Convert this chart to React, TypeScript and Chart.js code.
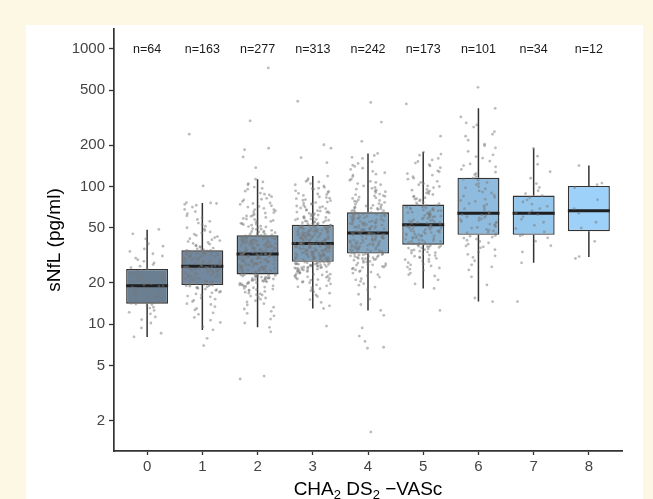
import React, { useEffect, useRef } from 'react';
import { Chart, registerables } from 'chart.js';

Chart.register(...registerables);

// ---------- data ----------
const categories = [0, 1, 2, 3, 4, 5, 6, 7, 8];
const nLabels = ['n=64', 'n=163', 'n=277', 'n=313', 'n=242', 'n=173', 'n=101', 'n=34', 'n=12'];
const whiskerLow = [8.06, 9.06, 9.5, 13.0, 12.6, 18.2, 14.6, 27.9, 30.8];
const q1 = [14.1, 19.3, 23.0, 28.4, 32.6, 37.8, 44.6, 44.6, 47.4];
const median = [19.0, 26.4, 32.3, 38.5, 45.9, 52.7, 64.0, 64.0, 66.8];
const q3 = [25.2, 34.4, 44.2, 52.7, 65.0, 74.0, 116, 86.0, 101];
const whiskerHigh = [48.5, 75.9, 113, 119, 174, 178, 370, 189, 142];
const boxColors = ['#6b7f93', '#71889e', '#7792aa', '#7d9cb6', '#83a7c3', '#89b1d0', '#8fbcde', '#95c6eb', '#9ed1f9'];
const yTicks = [2, 5, 10, 20, 50, 100, 200, 500, 1000];
const xTitleParts = ['CHA', '2', ' DS', '2', ' \u2212VASc'];
const yTitle = 'sNfL (pg/ml)';

const points0 = [8.1, 8.6, 9.4, 10.2, 10.8, 11.3, 11.9, 12.2, 12.6, 13.1, 13.3, 13.6, 13.9, 14.0, 14.2, 14.4,
  14.7, 15.0, 15.2, 15.6, 15.9, 16.1, 16.4, 16.9, 17.2, 17.4, 17.8, 18.1, 18.3, 18.6, 18.8, 19.0,
  19.3, 19.7, 20.1, 20.4, 20.9, 21.2, 21.5, 21.9, 22.3, 22.6, 23.0, 23.4, 23.9, 24.3, 24.7, 25.1,
  25.8, 26.4, 27.1, 27.9, 28.6, 29.4, 30.2, 31.3, 32.5, 33.8, 35.2, 36.9, 38.4, 41.7, 45.3, 48.8];
const points1 = [7.0, 7.9, 9.1, 9.6, 10.3, 10.7, 11.2, 11.8, 12.1, 12.7, 13.0, 13.4, 13.9, 14.1, 14.6, 14.9, 15.2, 15.5, 15.8, 16.0,
  16.3, 16.6, 16.9, 17.1, 17.3, 17.6, 17.8, 18.0, 18.2, 18.4, 18.5, 18.7, 18.9, 19.0, 19.1, 19.2, 19.3, 19.4, 19.5, 19.6,
  19.8, 20.0, 20.3, 20.5, 20.6, 20.9, 21.1, 21.3, 21.4, 21.7, 21.9, 22.1, 22.2, 22.5, 22.7, 22.8, 23.0, 23.2, 23.5, 23.6,
  23.8, 24.0, 24.1, 24.3, 24.4, 24.6, 24.8, 24.9, 25.1, 25.2, 25.3, 25.5, 25.6, 25.7, 25.8, 25.9, 26.0, 26.1, 26.2, 26.3, 26.4,
  26.6, 26.8, 27.0, 27.3, 27.5, 27.7, 27.9, 28.2, 28.4, 28.6, 28.8, 29.1, 29.3, 29.5, 29.8, 30.0, 30.2, 30.4, 30.7, 30.9,
  31.1, 31.3, 31.6, 31.8, 32.0, 32.2, 32.4, 32.6, 32.8, 33.0, 33.2, 33.4, 33.5, 33.7, 33.8, 33.9, 34.0, 34.1, 34.2, 34.3, 34.4,
  34.8, 35.2, 35.7, 36.1, 36.6, 37.0, 37.5, 38.1, 38.6, 39.2, 39.8, 40.5, 41.1, 41.8, 42.6, 43.3, 44.1, 45.0, 45.9, 46.8,
  47.9, 49.0, 50.2, 51.5, 52.8, 54.3, 55.9, 57.6, 59.4, 61.3, 63.5, 65.8, 68.2, 70.9, 73.1, 74.2, 75.3, 76.0, 76.4, 101, 240];
const points2 = [4.0, 4.2, 8.8, 9.5, 10.2, 10.9, 11.5, 12.0, 12.4, 12.9, 13.3, 13.8, 14.1, 14.5, 14.8, 15.2, 15.5, 15.7, 16.0, 16.3,
  16.6, 16.8, 17.1, 17.3, 17.5, 17.8, 18.0, 18.2, 18.4, 18.6, 18.8, 19.0, 19.2, 19.3, 19.5, 19.7, 19.8, 20.0, 20.2, 20.3,
  20.5, 20.6, 20.8, 20.9, 21.1, 21.2, 21.3, 21.5, 21.6, 21.7, 21.8, 22.0, 22.1, 22.2, 22.3, 22.4, 22.5, 22.6, 22.7, 22.8,
  22.9, 23.0, 16.4, 17.7, 18.9, 19.9, 20.7, 21.4, 22.0,
  23.2, 23.4, 23.5, 23.7, 23.9, 24.0, 24.2, 24.4, 24.5, 24.7, 24.9, 25.0, 25.2, 25.4, 25.5, 25.7, 25.9, 26.0, 26.2, 26.4,
  26.5, 26.7, 26.9, 27.0, 27.2, 27.4, 27.5, 27.7, 27.9, 28.0, 28.2, 28.4, 28.5, 28.7, 28.9, 29.0, 29.2, 29.4, 29.5, 29.7,
  29.9, 30.0, 30.2, 30.4, 30.5, 30.7, 30.9, 31.0, 31.2, 31.4, 31.5, 31.7, 31.9, 32.0, 32.1, 32.2, 32.3, 23.6, 24.8, 25.3,
  26.1, 26.8, 27.3, 28.1, 28.8, 29.3, 30.1, 30.8, 31.6, 32.2,
  32.5, 32.8, 33.0, 33.3, 33.5, 33.9, 34.1, 34.4, 34.6, 34.9, 35.1, 35.4, 35.7, 35.9, 36.2, 36.5, 36.7, 37.0, 37.3, 37.5,
  37.8, 38.1, 38.3, 38.6, 38.9, 39.1, 39.4, 39.7, 40.0, 40.2, 40.5, 40.8, 41.0, 41.3, 41.6, 41.9, 42.1, 42.4, 42.7, 43.0,
  43.2, 43.5, 43.8, 44.0, 44.2, 32.6, 33.7, 34.8, 35.5, 36.3, 37.1, 38.0, 38.8, 39.6, 40.3, 41.1, 42.0, 42.9, 43.6, 33.2,
  34.3, 35.8, 36.9, 37.7, 39.0, 40.6, 41.5, 42.6, 43.9,
  44.6, 45.1, 45.7, 46.2, 46.9, 47.5, 48.1, 48.8, 49.4, 50.1, 50.9, 51.6, 52.4, 53.2, 54.0, 54.9, 55.8, 56.7, 57.6, 58.6,
  59.6, 60.7, 61.8, 62.9, 64.1, 65.3, 66.6, 68.0, 69.4, 70.9, 72.5, 74.2, 76.0, 77.9, 79.9, 82.1, 84.4, 86.9, 89.6, 92.5,
  95.7, 99.1, 103, 108, 113, 45.4, 47.2, 49.0, 51.2, 53.7, 56.3, 58.1, 61.2, 64.7, 67.9, 71.6, 75.3, 80.8, 88.0, 97.0,
  105, 137, 164, 185, 190, 300, 726, 46.5, 52.9];
const points3 = [9.7, 13.0, 13.6, 14.4, 15.1, 15.9, 16.3, 16.8, 17.5, 17.9, 18.4, 18.7, 19.3, 19.6, 20.2, 20.4, 20.9, 21.3, 21.5, 21.9,
  22.3, 22.4, 22.8, 23.1, 23.3, 23.6, 23.9, 24.0, 24.4, 24.5, 24.8, 25.0, 25.1, 25.4, 25.6, 25.7, 25.9, 26.1, 26.2, 26.5,
  26.6, 26.8, 26.9, 27.1, 27.2, 27.4, 27.5, 27.7, 27.8, 28.0, 28.1, 28.3, 28.4, 19.0, 20.7, 22.1, 23.5, 24.2, 25.3, 26.3,
  27.0, 27.9, 17.2, 21.1, 22.6, 24.7, 26.0, 27.6, 25.8, 23.0, 18.1, 20.0, 21.7, 24.1, 25.5, 26.7, 27.3, 28.2,
  28.6, 28.9, 29.1, 29.4, 29.5, 29.9, 30.1, 30.2, 30.6, 30.8, 31.0, 31.3, 31.5, 31.6, 32.0, 32.1, 32.4, 32.7, 32.8, 33.2,
  33.3, 33.6, 33.9, 34.0, 34.3, 34.5, 34.8, 35.0, 35.2, 35.5, 35.7, 35.9, 36.2, 36.3, 36.6, 36.9, 37.0, 37.3, 37.5, 37.7,
  38.0, 38.1, 38.4, 38.5, 28.8, 29.7, 30.4, 31.1, 31.9, 32.5, 33.0, 33.8, 34.6, 35.4, 36.0, 36.8, 37.6, 38.3, 29.2, 30.0,
  30.9, 31.7, 32.3, 33.5, 34.2, 35.1, 35.8, 36.5, 37.2, 38.2, 29.8, 31.4, 32.9, 34.4, 35.6, 36.7, 37.9, 30.5,
  38.8, 39.1, 39.6, 39.9, 40.3, 40.8, 41.0, 41.6, 41.9, 42.3, 42.8, 43.1, 43.5, 44.0, 44.2, 44.8, 45.1, 45.5, 45.9, 46.4,
  46.7, 47.0, 47.6, 47.9, 48.3, 48.7, 49.2, 49.5, 49.9, 50.4, 50.7, 51.1, 51.6, 51.9, 52.3, 52.6, 39.4, 40.5, 41.3, 42.6,
  43.7, 44.5, 45.7, 46.9, 47.3, 48.5, 49.7, 50.9, 52.0, 39.0, 40.1, 41.1, 42.0, 43.3, 44.4, 45.3, 46.2, 47.4, 48.9, 50.2,
  51.4, 52.5, 38.9, 40.7, 42.1, 43.9, 45.0, 46.6, 48.0, 49.4, 51.0, 52.1, 41.8, 44.6, 47.7, 50.6, 39.3, 43.0,
  53.1, 53.8, 54.6, 55.0, 55.9, 56.5, 57.3, 58.0, 58.7, 59.6, 60.3, 61.2, 62.0, 62.9, 63.8, 64.9, 65.7, 66.8, 67.9, 69.2,
  70.4, 71.5, 72.9, 74.3, 75.8, 77.1, 78.9, 80.4, 82.3, 84.0, 86.1, 88.2, 90.5, 93.1, 95.8, 98.6, 101, 105, 109, 114,
  119, 53.5, 54.2, 55.5, 57.0, 58.3, 60.0, 61.6, 63.4, 65.2, 67.2, 69.8, 72.2, 75.1, 79.5, 83.1, 87.4, 92.0, 97.3, 103,
  111, 149, 162, 190, 201, 416, 54.9, 56.1, 59.1, 62.4, 66.3, 70.9, 76.5, 81.6, 89.3, 96.4, 108, 57.8, 64.3];
const points4 = [1.65, 6.7, 6.8, 7.5, 8.2, 9.4, 11.6, 12.6, 13.9, 15.2, 16.5, 17.8, 18.6, 19.7, 20.5, 21.4, 22.0, 22.9, 23.5, 24.1,
  24.8, 25.2, 25.9, 26.3, 26.9, 27.2, 27.8, 28.1, 28.6, 28.9, 29.4, 29.7, 30.1, 30.4, 30.8, 31.0, 31.4, 31.7, 32.0, 32.3,
  32.5, 19.2, 21.0, 22.5, 23.9, 25.5, 26.6, 27.5, 28.4, 29.2, 30.0, 30.6, 31.2, 31.9, 24.4, 26.0, 27.0, 29.9, 31.5, 32.4,
  32.9, 33.2, 33.7, 34.0, 34.5, 34.8, 35.3, 35.6, 36.0, 36.5, 36.8, 37.3, 37.6, 38.1, 38.5, 38.9, 39.4, 39.7, 40.2, 40.6,
  41.0, 41.5, 41.9, 42.3, 42.8, 43.2, 43.6, 44.1, 44.5, 45.0, 45.3, 45.8, 33.5, 34.3, 35.1, 35.9, 36.7, 37.9, 38.7, 39.6,
  40.4, 41.2, 42.1, 43.0, 43.9, 44.8, 45.6, 33.9, 35.0, 36.3, 37.1, 38.3, 39.1, 40.0, 41.7, 42.6, 44.3, 45.4, 34.7, 37.5, 40.9,
  46.3, 46.9, 47.4, 48.0, 48.5, 49.1, 49.8, 50.3, 50.9, 51.6, 52.2, 52.8, 53.5, 54.1, 54.8, 55.4, 56.1, 56.8, 57.5, 58.2,
  58.9, 59.6, 60.4, 61.0, 61.8, 62.5, 63.3, 64.0, 64.7, 46.6, 47.8, 49.3, 50.6, 52.0, 53.1, 54.5, 55.9, 57.2, 58.6, 60.0,
  61.4, 62.9, 64.4, 47.1, 48.8, 51.3, 53.9, 56.4, 59.2, 62.1, 63.7, 46.1, 49.6, 52.5, 55.1, 57.9, 60.8, 63.0, 50.0, 54.3,
  65.8, 66.9, 68.1, 69.5, 70.7, 72.2, 73.6, 75.0, 76.8, 78.3, 80.1, 81.9, 83.8, 86.0, 88.1, 90.5, 92.9, 95.6, 98.4, 101,
  105, 109, 113, 118, 123, 129, 136, 143, 151, 160, 168, 174, 66.4, 68.9, 71.3, 74.4, 77.5, 82.7, 87.2, 91.6,
  97.0, 103, 111, 121, 133, 147, 163, 67.5, 70.1, 73.0, 79.2, 84.9, 94.1, 107, 126, 140, 213, 294, 408, 69.3, 85.5];
const points5 = [12.6, 18.2, 19.6, 21.0, 22.4, 23.5, 24.7, 25.6, 26.5, 27.3, 28.0, 28.8, 29.4, 30.1, 30.7, 31.2, 31.8, 32.3, 32.9, 33.4,
  33.9, 34.3, 34.8, 35.2, 35.7, 36.1, 36.5, 36.9, 37.3, 37.7, 22.9, 25.1, 27.0, 28.5, 30.4, 31.5, 33.1, 34.6, 35.9, 37.0,
  26.0, 29.7, 36.6,
  38.2, 38.8, 39.3, 39.9, 40.4, 41.0, 41.5, 42.1, 42.7, 43.2, 43.8, 44.4, 45.0, 45.6, 46.2, 46.8, 47.4, 48.0, 48.7, 49.3,
  49.9, 50.6, 51.2, 51.9, 52.5, 38.5, 40.0, 41.8, 43.5, 45.3, 47.1, 48.9, 50.8, 52.3, 39.6, 42.4, 44.7, 46.5, 49.6, 51.5,
  40.7, 44.1, 47.7, 50.3,
  53.3, 54.1, 54.9, 55.7, 56.5, 57.4, 58.2, 59.1, 60.0, 60.9, 61.8, 62.7, 63.7, 64.6, 65.6, 66.6, 67.6, 68.7, 69.7, 70.8,
  71.9, 73.0, 73.9, 53.8, 56.0, 58.7, 61.2, 64.0, 66.9, 70.0, 72.6, 55.3, 59.6, 63.1, 67.1, 71.3, 57.0, 62.2, 68.2, 54.5,
  60.4, 65.1, 69.3,
  75.2, 77.0, 78.8, 80.9, 82.9, 85.1, 87.5, 89.9, 92.6, 95.3, 98.3, 101, 105, 109, 113, 118, 124, 130, 137, 144,
  152, 160, 169, 178, 76.1, 79.8, 84.0, 88.7, 94.0, 100, 107, 115, 128, 141, 156, 172, 232, 398, 81.8, 91.2, 103, 121, 148];
const points6 = [14.6, 15.5, 19.3, 22.1, 24.8, 27.0, 28.9, 30.6, 32.2, 33.5, 34.8, 35.9, 37.0, 38.1, 39.0, 39.9, 40.7, 41.5, 42.2, 42.9,
  43.6, 44.2, 26.1, 31.4, 36.5,
  45.3, 46.5, 47.6, 48.8, 49.9, 51.1, 52.2, 53.4, 54.5, 55.7, 56.8, 58.0, 59.1, 60.3, 61.4, 62.6, 63.6, 46.0, 48.2, 50.5,
  52.8, 55.1, 57.4, 59.7, 62.0,
  65.4, 67.7, 70.1, 72.6, 75.2, 77.9, 80.7, 83.6, 86.6, 89.7, 92.9, 96.3, 99.7, 103, 107, 111, 115, 69.0, 74.0, 79.3,
  85.0, 91.2, 97.8, 105, 113,
  118, 122, 127, 133, 139, 146, 153, 161, 170, 180, 191, 203, 217, 232, 250, 270, 290, 320, 370, 525, 124, 142, 165, 198, 240, 280];
const points7 = [14.6, 27.9, 33.5, 37.2, 40.1, 42.3, 43.9, 44.6, 46.8, 49.5, 52.3, 55.0, 57.8, 60.2, 62.5, 63.9, 64.2,
  66.5, 69.1, 71.8, 74.6, 77.3, 80.1, 83.0, 85.8, 88.9, 93.2, 98.5, 105, 115, 128, 145, 166, 189];
const points8 = [30, 31, 40, 50, 55, 64, 69, 80, 98, 103, 106, 142];

const pointsByCategory = [points0, points1, points2, points3, points4, points5, points6, points7, points8];

// ---------- layout / style ----------
const JITTER = 0.33;
const FONT = '"Liberation Sans", Arial, Helvetica, sans-serif';
const AXIS_COLOR = '#333333';

function jitterOffset(cat: number, k: number): number {
  // deterministic horizontal jitter (position only)
  let h = (cat * 7919 + k * 104729 + 12345) >>> 0;
  h = Math.imul(h ^ (h >>> 15), 0x2c1b3c6d) >>> 0;
  h = Math.imul(h ^ (h >>> 12), 0x297a2d39) >>> 0;
  h = (h ^ (h >>> 15)) >>> 0;
  return (h / 4294967296 - 0.5) * 2 * JITTER;
}

const boxPlugin = {
  id: 'boxExtras',
  beforeDatasetsDraw(chart: any) {
    const ctx = chart.ctx;
    const xs = chart.scales.x;
    const ys = chart.scales.y;
    ctx.save();
    ctx.strokeStyle = AXIS_COLOR;
    ctx.lineWidth = 1.5;
    categories.forEach((c, i) => {
      const x = xs.getPixelForValue(c);
      ctx.beginPath();
      ctx.moveTo(x, ys.getPixelForValue(whiskerHigh[i]));
      ctx.lineTo(x, ys.getPixelForValue(q3[i]));
      ctx.moveTo(x, ys.getPixelForValue(q1[i]));
      ctx.lineTo(x, ys.getPixelForValue(whiskerLow[i]));
      ctx.stroke();
    });
    ctx.restore();
  },
  afterDatasetDraw(chart: any, args: any) {
    if (args.index !== 0) return;
    const ctx = chart.ctx;
    const ys = chart.scales.y;
    const meta = chart.getDatasetMeta(0);
    ctx.save();
    ctx.strokeStyle = '#1f1f1f';
    ctx.lineWidth = 3;
    meta.data.forEach((bar: any, i: number) => {
      const y = ys.getPixelForValue(median[i]);
      ctx.beginPath();
      ctx.moveTo(bar.x - bar.width / 2, y);
      ctx.lineTo(bar.x + bar.width / 2, y);
      ctx.stroke();
    });
    ctx.restore();
  },
  afterDraw(chart: any) {
    const ctx = chart.ctx;
    const xs = chart.scales.x;
    const ys = chart.scales.y;
    const area = chart.chartArea;
    ctx.save();
    // n labels
    ctx.fillStyle = '#1a1a1a';
    ctx.font = `12.5px ${FONT}`;
    ctx.textAlign = 'center';
    ctx.textBaseline = 'middle';
    const yN = ys.getPixelForValue(1000) + 1;
    categories.forEach((c, i) => {
      ctx.fillText(nLabels[i], xs.getPixelForValue(c), yN);
    });
    // y title
    ctx.save();
    ctx.translate(29, (area.top + area.bottom) / 2);
    ctx.rotate(-Math.PI / 2);
    ctx.fillStyle = '#000';
    ctx.font = `19px ${FONT}`;
    ctx.textAlign = 'center';
    ctx.textBaseline = 'middle';
    ctx.fillText(yTitle, 0, 0);
    ctx.restore();
    // x title with subscripts
    const mainFont = `19px ${FONT}`;
    const subFont = `13px ${FONT}`;
    ctx.fillStyle = '#000';
    ctx.textAlign = 'left';
    ctx.textBaseline = 'alphabetic';
    const widths = xTitleParts.map((t, i) => {
      ctx.font = i % 2 === 1 ? subFont : mainFont;
      return ctx.measureText(t).width;
    });
    const total = widths.reduce((a, b) => a + b, 0);
    let x = (area.left + area.right) / 2 - total / 2;
    const baseY = area.bottom + 44;
    xTitleParts.forEach((t, i) => {
      const sub = i % 2 === 1;
      ctx.font = sub ? subFont : mainFont;
      ctx.fillText(t, x, sub ? baseY + 4 : baseY);
      x += widths[i];
    });
    ctx.restore();
  },
};

export default function App() {
  const ref = useRef<HTMLCanvasElement | null>(null);

  useEffect(() => {
    if (!ref.current) return;
    const pointData: { x: number; y: number }[] = [];
    pointsByCategory.forEach((vals, c) => {
      vals.forEach((v, k) => {
        pointData.push({ x: categories[c] + jitterOffset(c, k), y: v });
      });
    });
    const chart = new Chart(ref.current, {
      type: 'scatter',
      data: {
        datasets: [
          {
            type: 'bar',
            data: categories.map((c, i) => ({ x: c, y: [q1[i], q3[i]] })) as any,
            backgroundColor: boxColors,
            borderColor: AXIS_COLOR,
            borderWidth: 1.4,
            borderSkipped: false,
            barPercentage: 0.76,
            categoryPercentage: 1,
            order: 2,
          } as any,
          {
            type: 'scatter',
            data: pointData,
            pointRadius: 1.4,
            pointBackgroundColor: 'rgba(120,120,120,0.5)',
            pointBorderWidth: 0,
            order: 1,
          } as any,
        ],
      },
      plugins: [boxPlugin],
      options: {
        animation: false,
        responsive: false,
        events: [],
        layout: { padding: { left: 0, right: 21, top: 0, bottom: 0 } },
        plugins: { legend: { display: false }, tooltip: { enabled: false } },
        scales: {
          x: {
            type: 'linear',
            min: -0.6,
            max: 8.6,
            offset: false,
            afterFit: (s: any) => {
              s.height = 48;
              s.paddingLeft = 0;
              s.paddingRight = 0;
            },
            afterBuildTicks: (s: any) => {
              s.ticks = categories.map((c) => ({ value: c }));
            },
            ticks: {
              callback: (v: any) => String(v),
              font: { size: 15, family: FONT },
              color: '#444444',
              padding: 3,
              maxRotation: 0,
            },
            grid: {
              display: true,
              drawOnChartArea: false,
              drawTicks: true,
              tickLength: 4,
              tickColor: AXIS_COLOR,
              tickWidth: 1.3,
              offset: false,
            },
            border: { display: true, color: AXIS_COLOR, width: 1.7 },
          },
          y: {
            type: 'logarithmic',
            min: 1.2,
            max: 1393,
            afterFit: (s: any) => {
              s.width = 88;
              s.paddingTop = 0;
              s.paddingBottom = 0;
            },
            afterBuildTicks: (s: any) => {
              s.ticks = yTicks.map((v) => ({ value: v }));
            },
            ticks: {
              callback: (v: any) => String(v),
              font: { size: 15, family: FONT },
              color: '#444444',
              padding: 4,
            },
            grid: {
              display: true,
              drawOnChartArea: false,
              drawTicks: true,
              tickLength: 5,
              tickColor: AXIS_COLOR,
              tickWidth: 1.3,
            },
            border: { display: true, color: AXIS_COLOR, width: 1.7 },
          },
        },
      } as any,
    });
    return () => chart.destroy();
  }, []);

  return (
    <div style={{ position: 'absolute', left: 0, top: 0, width: 653, height: 499, background: '#fdf8e4', overflow: 'hidden' }}>
      <div style={{ position: 'absolute', left: 26, top: 25, width: 617, height: 474, background: '#ffffff' }}>
        <canvas ref={ref} width={617} height={474} style={{ display: 'block', width: 617, height: 474 }} />
      </div>
    </div>
  );
}
